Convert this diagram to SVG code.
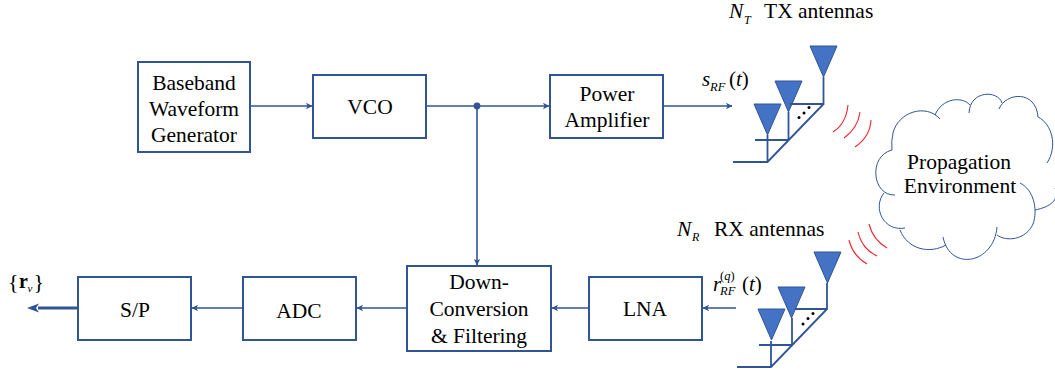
<svg xmlns="http://www.w3.org/2000/svg" width="1055" height="374" viewBox="0 0 1055 374">
<defs>
<marker id="ah" markerUnits="userSpaceOnUse" markerWidth="8" markerHeight="8" refX="6" refY="4" orient="auto"><path d="M0,0.8 L6.5,4 L0,7.2 L1.5,4 Z" fill="#2F5597"/></marker>
<g id="ant-shape"><path d="M0,0 H27 L13.5,31 Z" fill="#4472C4" stroke="#2F5597" stroke-width="1"/></g>
</defs>
<style>
.box{fill:#fff;stroke:#2F5597;stroke-width:2}
.t{font-family:"Liberation Serif","Times New Roman",serif;font-size:21.5px;fill:#000;text-anchor:middle}
.m{font-family:"Liberation Serif","Times New Roman",serif;fill:#000}
.i{font-style:italic}
.c{fill:none;stroke:#2F5597;stroke-width:1.6}
.w{fill:none;stroke:#2F5597;stroke-width:1.8}
.r{fill:none;stroke:#F2222A;stroke-width:1.1}
.cl{fill:none;stroke:#2F5597;stroke-width:1}
</style>
<g id="connectors">
<path class="c" d="M250,106 H312" marker-end="url(#ah)"/>
<path class="c" d="M426,106 H549" marker-end="url(#ah)"/>
<circle cx="477" cy="106" r="3.4" fill="#2F5597"/>
<path class="c" d="M477,106 V265" marker-end="url(#ah)"/>
<path class="c" d="M663,106 H732" marker-end="url(#ah)"/>
<path class="c" d="M736,308 H703" marker-end="url(#ah)"/>
<path class="c" d="M589,308 H552" marker-end="url(#ah)"/>
<path class="c" d="M407,308 H357" marker-end="url(#ah)"/>
<path class="c" d="M243,308 H192" marker-end="url(#ah)"/>
<path d="M78,308 H38" fill="none" stroke="#2F5597" stroke-width="3.2"/>
<path d="M39,303.500 L27,308 L39,312.500 L36,308 Z" fill="#2F5597"/>
</g>
<g id="baseband"><rect class="box" x="138" y="62" width="112" height="90"/>
<text class="t" x="194" y="90">Baseband</text><text class="t" x="194" y="116">Waveform</text><text class="t" x="194" y="142">Generator</text></g>
<g id="vco"><rect class="box" x="313" y="75" width="113" height="63"/><text class="t" x="370" y="114">VCO</text></g>
<g id="pa"><rect class="box" x="550" y="75" width="113" height="63"/><text class="t" x="607" y="101">Power</text><text class="t" x="607" y="127">Amplifier</text></g>
<g id="downconv"><rect class="box" x="407" y="266" width="144" height="85"/><text class="t" x="479" y="289">Down-</text><text class="t" x="479" y="316">Conversion</text><text class="t" x="479" y="343">&amp; Filtering</text></g>
<g id="lna"><rect class="box" x="589" y="277" width="113" height="63"/><text class="t" x="645" y="316">LNA</text></g>
<g id="adc"><rect class="box" x="243" y="277" width="113" height="63"/><text class="t" x="299" y="318">ADC</text></g>
<g id="sp"><rect class="box" x="78" y="277" width="113" height="63"/><text class="t" x="135" y="317">S/P</text></g>
<g id="output-label">
<text class="m" x="8" y="289" font-size="22">{</text>
<text class="m" x="19" y="288" font-size="20" font-weight="bold">r</text>
<text class="m i" x="27.500" y="292" font-size="11">v</text>
<text class="m" x="33.500" y="289" font-size="22">}</text>
</g>
<g id="tx-array">
<use href="#ant-shape" x="810" y="46"/><use href="#ant-shape" x="775" y="81"/><use href="#ant-shape" x="754" y="104"/>
<path class="w" d="M823.500,77 V104 H790 M823.500,104 L767.500,162 H733 M788.500,112 V140 H755 M767.500,135 V162"/>
<circle cx="799" cy="117.500" r="1.500"/><circle cx="804" cy="113" r="1.500"/><circle cx="809" cy="107.500" r="1.500"/>
<path class="r" d="M833,132 Q846,124 848,105 M844,138 Q858,128 860,112 M855,147 Q870,137 871,120"/>
</g>
<g id="rx-array">
<use href="#ant-shape" x="814" y="252"/><use href="#ant-shape" x="778" y="287"/><use href="#ant-shape" x="758" y="309"/>
<path class="w" d="M827,283 V309 H795 M827,309 L771,367 H737 M792,318 V345 H759 M771,341 V367"/>
<circle cx="803" cy="324" r="1.500"/><circle cx="808" cy="318.500" r="1.500"/><circle cx="813" cy="313.500" r="1.500"/>
<path class="r" d="M849,240 Q853,256 867,264 M858,232 Q862,249 877,256 M869,224 Q873,240 887,248"/>
</g>
<g id="cloud">
<path class="cl" d="M940,119 C926,103 898,112 893,133 Q891,142 892,150"/>
<path class="cl" d="M935,115 C942,98 962,96 970,105"/>
<path class="cl" d="M969,113 C970,90 998,90 1002,103"/>
<path class="cl" d="M999,109 C1006,92 1036,90 1038,117"/>
<path class="cl" d="M1038,117 C1052,124 1058,146 1047,163"/>
<path class="cl" d="M1055,188 C1060,200 1050,207 1035,210"/>
<path class="cl" d="M1020,183 C1034,190 1038,210 1033,224 C1026,240 1006,242 997,235"/>
<path class="cl" d="M997,227 C994,264 950,272 943,237"/>
<path class="cl" d="M946,245 C930,254 908,250 900,230"/>
<path class="cl" d="M905,228 C884,232 872,208 884,193"/>
<path class="cl" d="M895,195 C872,196 868,156 892,150"/>
<text class="t" x="959" y="169">Propagation</text><text class="t" x="960" y="193">Environment</text>
</g>
<g id="labels">
<text class="m i" x="729" y="18" font-size="21.500">N</text><text class="m i" x="744" y="24" font-size="12">T</text><text class="m" x="764" y="18" font-size="21.500">TX antennas</text>
<text class="m i" x="677" y="236" font-size="21.500">N</text><text class="m i" x="692" y="241" font-size="12">R</text><text class="m" x="714" y="236" font-size="21.500">RX antennas</text>
<text class="m i" x="702" y="86" font-size="21">s</text><text class="m i" x="710" y="91" font-size="12.500">RF</text><text class="m" x="729" y="86" font-size="21">(<tspan class="i">t</tspan>)</text>
<text class="m i" x="713" y="291" font-size="21">r</text><text class="m i" x="720" y="295" font-size="12.500">RF</text><text class="m" x="720" y="280" font-size="12.500">(<tspan class="i">q</tspan>)</text><text class="m" x="742" y="291" font-size="21">(<tspan class="i">t</tspan>)</text>
</g>
</svg>
